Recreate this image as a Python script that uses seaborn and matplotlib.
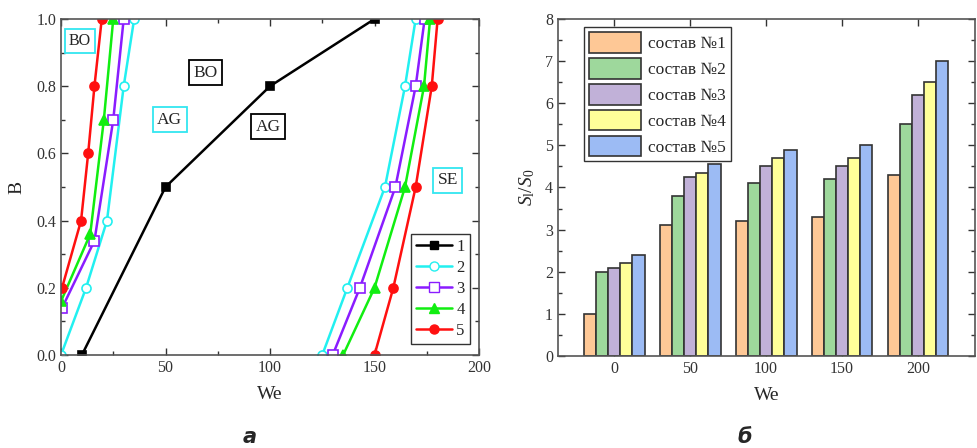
import matplotlib
matplotlib.use("Agg")
import matplotlib.pyplot as plt
import seaborn as sns
import pandas as pd
from matplotlib.lines import Line2D
from matplotlib.ticker import MultipleLocator

sns.set_theme(style="ticks")
plt.rcParams['font.family'] = ['Liberation Serif', 'DejaVu Serif']
plt.rcParams['mathtext.fontset'] = 'custom'
plt.rcParams['mathtext.it'] = 'Liberation Serif:italic'
plt.rcParams['mathtext.rm'] = 'Liberation Serif'

# ---------------- Panel a data ----------------
curve_labels = ["1", "2", "3", "4", "5"]
# curve 1 (single branch)
c1_we = [10, 50, 100, 150]
c1_b = [0.0, 0.5, 0.8, 1.0]
# left branches (curves 2..5)
c2L_we = [0, 12, 22, 30, 35]
c2L_b = [0.0, 0.2, 0.4, 0.8, 1.0]
c3L_we = [0.5, 16, 25, 30]
c3L_b = [0.14, 0.34, 0.7, 1.0]
c4L_we = [0, 14, 20.5, 25]
c4L_b = [0.16, 0.36, 0.7, 1.0]
c5L_we = [0.5, 9.6, 13, 16, 19.5]
c5L_b = [0.2, 0.4, 0.6, 0.8, 1.0]
# right branches
c2R_we = [125, 137, 155, 164.6, 169.7]
c2R_b = [0.0, 0.2, 0.5, 0.8, 1.0]
c3R_we = [130, 143, 160, 169.7, 174]
c3R_b = [0.0, 0.2, 0.5, 0.8, 1.0]
c4R_we = [135, 150, 164.6, 173.7, 176.6]
c4R_b = [0.0, 0.2, 0.5, 0.8, 1.0]
c5R_we = [150, 159, 169.7, 177.4, 180.2]
c5R_b = [0.0, 0.2, 0.5, 0.8, 1.0]

# region labels
region_text = ["BO", "BO", "AG", "AG", "SE"]
region_we = [9, 69, 52, 99, 185]
region_b = [0.935, 0.84, 0.70, 0.68, 0.52]
region_edge = ["#33E6F0", "black", "#33E6F0", "black", "#33E6F0"]

# ---------------- Panel б data ----------------
we_cats = ["0", "50", "100", "150", "200"]
sostav_labels = ["состав №1", "состав №2", "состав №3", "состав №4", "состав №5"]
s1 = [1.0, 3.1, 3.2, 3.3, 4.3]
s2 = [2.0, 3.8, 4.1, 4.2, 5.5]
s3 = [2.1, 4.25, 4.5, 4.5, 6.2]
s4 = [2.2, 4.35, 4.7, 4.7, 6.5]
s5 = [2.4, 4.55, 4.9, 5.0, 7.0]
bar_colors = ["#FEC896", "#9ED89C", "#C1B1D8", "#FFFF99", "#9CBBF4"]

fig = plt.figure(figsize=(9.77, 4.48), dpi=100)
axA = fig.add_axes([61/977, 1-355/448, (479-61)/977, 336/448])
axB = fig.add_axes([558/977, 1-356/448, (975-558)/977, 337/448])

tick_fs = 11.5
lab_fs = 14

# ---- panel a ----
styles = {
    "1": dict(color="black", marker="s", mfc="black", ms=5.5),
    "2": dict(color="#22F0F0", marker="o", mfc="white", ms=6.5),
    "3": dict(color="#8A1CFF", marker="s", mfc="white", ms=6.5),
    "4": dict(color="#11EE11", marker="^", mfc="#11EE11", ms=6.5),
    "5": dict(color="#FF1010", marker="o", mfc="#FF1010", ms=6.5),
}
branches = [
    ("1", c1_we, c1_b),
    ("2", c2L_we, c2L_b), ("2", c2R_we, c2R_b),
    ("3", c3L_we, c3L_b), ("3", c3R_we, c3R_b),
    ("4", c4L_we, c4L_b), ("4", c4R_we, c4R_b),
    ("5", c5L_we, c5L_b), ("5", c5R_we, c5R_b),
]
for lab, xs, ys in branches:
    st = styles[lab]
    sns.lineplot(x=xs, y=ys, ax=axA, sort=False, estimator=None, color=st["color"],
                 marker=st["marker"], markerfacecolor=st["mfc"], markeredgecolor=st["color"],
                 markersize=st["ms"], markeredgewidth=1.2, linewidth=1.8)

axA.set_xlim(0, 200)
axA.set_ylim(0, 1.0)
axA.xaxis.set_major_locator(MultipleLocator(50))
axA.xaxis.set_minor_locator(MultipleLocator(25))
axA.yaxis.set_major_locator(MultipleLocator(0.2))
axA.yaxis.set_minor_locator(MultipleLocator(0.1))
axA.yaxis.set_major_formatter(matplotlib.ticker.FormatStrFormatter('%.1f'))
axA.tick_params(which='both', direction='in', top=True, right=True, labelsize=tick_fs, colors='#333333', labelcolor='#333333')
axA.tick_params(which='major', length=5, width=1)
axA.tick_params(which='minor', length=3, width=1)
axA.set_xlabel("We", fontsize=lab_fs, labelpad=7)
axA.set_ylabel("B", fontsize=lab_fs, labelpad=8)
for sp in axA.spines.values():
    sp.set_color('#555555')
    sp.set_linewidth(1.2)

for t, x, y, ec in zip(region_text, region_we, region_b, region_edge):
    axA.text(x, y, t, fontsize=12.5 if (t != "BO" or ec == "black") else 11.5, ha='center', va='center',
             bbox=dict(boxstyle='square,pad=0.25', fc='white', ec=ec, lw=1.3))

handles = [Line2D([], [], color=styles[l]["color"], marker=styles[l]["marker"],
                  markerfacecolor=styles[l]["mfc"], markeredgecolor=styles[l]["color"],
                  markersize=styles[l]["ms"], linewidth=1.8) for l in curve_labels]
legA = axA.legend(handles, curve_labels, loc='lower right', bbox_to_anchor=(0.978, 0.034),
                  fontsize=12, frameon=True, fancybox=False, edgecolor='black',
                  handlelength=2.2, handletextpad=0.25, labelspacing=0.3, borderpad=0.3,
                  borderaxespad=0)
legA.get_frame().set_linewidth(1.0)

# ---- panel б ----
rows = []
for lab, vals in zip(sostav_labels, [s1, s2, s3, s4, s5]):
    for c, v in zip(we_cats, vals):
        rows.append({"We": c, "S": v, "состав": lab})
df = pd.DataFrame(rows)
sns.barplot(data=df, x="We", y="S", hue="состав", order=we_cats, hue_order=sostav_labels,
            palette=bar_colors, ax=axB, width=0.8, edgecolor="#333333", linewidth=1.2,
            saturation=1)
axB.set_xlim(-0.74, 4.75)
axB.set_ylim(0, 8)
axB.yaxis.set_major_locator(MultipleLocator(1))
axB.yaxis.set_minor_locator(MultipleLocator(0.5))
axB.tick_params(which='both', direction='in', top=True, right=True, labelsize=tick_fs, colors='#333333', labelcolor='#333333')
axB.tick_params(which='major', length=5, width=1)
axB.tick_params(which='minor', length=3, width=1)
axB.set_xlabel("We", fontsize=lab_fs, labelpad=7)
axB.set_ylabel(r"$S_{\mathrm{l}}/S_0$", fontsize=lab_fs, labelpad=6)
for sp in axB.spines.values():
    sp.set_color('#555555')
    sp.set_linewidth(1.2)

legB = axB.legend(loc='upper left', bbox_to_anchor=(0.062, 0.976), fontsize=12.5,
                  frameon=True, fancybox=False, edgecolor='black', handlelength=3.0,
                  handleheight=1.45, handletextpad=0.4, labelspacing=0.3, borderpad=0.3,
                  borderaxespad=0, title=None)
legB.get_frame().set_linewidth(1.0)
for h in legB.legend_handles:
    h.set_edgecolor("#333333")
    h.set_linewidth(1.2)

# captions
fig.text(250/977, 1-437/448, "а", fontsize=15, fontweight='bold', fontstyle='italic',
         family=['DejaVu Sans'], ha='center', va='center')
fig.text(745/977, 1-437/448, "б", fontsize=15, fontweight='bold', fontstyle='italic',
         family=['DejaVu Sans'], ha='center', va='center')

fig.savefig("out.png", dpi=100)
